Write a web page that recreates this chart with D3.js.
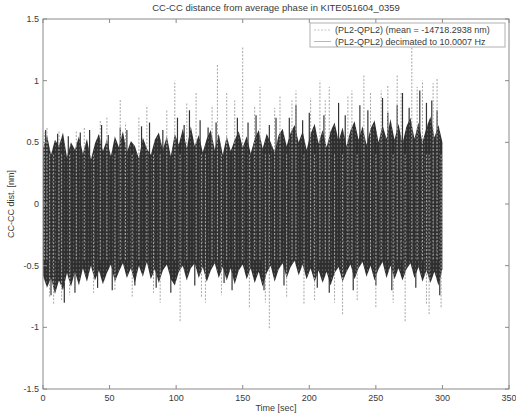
<!DOCTYPE html>
<html>
<head>
<meta charset="utf-8">
<script src="https://cdn.jsdelivr.net/npm/d3@7"></script>
<style>
  html, body { margin: 0; padding: 0; background: #fff; }
  svg { display: block; font-family: "Liberation Sans", Arial, sans-serif; }
</style>
</head>
<body>
<svg id="chart" width="516" height="419"></svg>
<script>
// ---- data -------------------------------------------------------------
const title = "CC-CC distance from average phase in KITE051604_0359";
const xLabel = "Time [sec]";
const yLabel = "CC-CC dist. [nm]";
const legendLabels = [
  "(PL2-QPL2) (mean = -14718.2938 nm)",
  "(PL2-QPL2) decimated to 10.0007 Hz"
];
const xTicks = [0, 50, 100, 150, 200, 250, 300, 350];
const yTicks = [-1.5, -1, -0.5, 0, 0.5, 1, 1.5];

// envelope of the decimated signal, sampled every 3 s from 0 to 300 s
const envStep = 3;
const envTop = [
  0.45, 0.56, 0.40, 0.52, 0.47, 0.58, 0.38, 0.50, 0.44, 0.55,
  0.41, 0.53, 0.36, 0.49, 0.57, 0.43, 0.52, 0.39, 0.55, 0.46,
  0.59, 0.42, 0.51, 0.47, 0.37, 0.54, 0.45, 0.40, 0.52, 0.58,
  0.44, 0.55, 0.39, 0.57, 0.48, 0.61, 0.45, 0.63, 0.47, 0.56,
  0.42, 0.53, 0.60, 0.44, 0.57, 0.40, 0.55, 0.43, 0.52, 0.59,
  0.46, 0.55, 0.41, 0.53, 0.60, 0.45, 0.57, 0.50, 0.42, 0.56,
  0.61, 0.47, 0.58, 0.64, 0.50, 0.59, 0.44, 0.57, 0.65, 0.49,
  0.60, 0.46, 0.59, 0.66, 0.51, 0.62, 0.47, 0.60, 0.67, 0.52,
  0.63, 0.48, 0.61, 0.68, 0.50, 0.64, 0.53, 0.69, 0.52, 0.65,
  0.49, 0.63, 0.70, 0.53, 0.66, 0.50, 0.62, 0.71, 0.54, 0.64, 0.50
];
const envBottom = [
  -0.58, -0.68, -0.60, -0.73, -0.62, -0.70, -0.56, -0.67, -0.55, -0.66,
  -0.52, -0.63, -0.50, -0.62, -0.54, -0.65, -0.56, -0.49, -0.63, -0.55,
  -0.48, -0.60, -0.52, -0.64, -0.50, -0.59, -0.47, -0.61, -0.53, -0.64,
  -0.54, -0.49, -0.61, -0.66, -0.55, -0.50, -0.62, -0.52, -0.48, -0.60,
  -0.51, -0.63, -0.54, -0.48, -0.60, -0.51, -0.62, -0.52, -0.65, -0.54,
  -0.49, -0.61, -0.52, -0.64, -0.55, -0.67, -0.56, -0.50, -0.63, -0.53,
  -0.48, -0.60, -0.51, -0.46, -0.58, -0.49, -0.61, -0.52, -0.63, -0.54,
  -0.64, -0.55, -0.66, -0.56, -0.51, -0.63, -0.55, -0.49, -0.61, -0.52,
  -0.47, -0.59, -0.50, -0.62, -0.53, -0.47, -0.60, -0.50, -0.61, -0.52,
  -0.62, -0.53, -0.48, -0.60, -0.51, -0.63, -0.54, -0.64, -0.55, -0.66, -0.53
];

// isolated excursions of the decimated signal [time s, value nm]
const darkSpikes = [
  [2, 0.60], [6, -0.74], [11, 0.57], [16, -0.80], [19, 0.55], [24, -0.72],
  [28, 0.58], [35, 0.60], [41, -0.68], [44, 0.64], [49, 0.56], [52, -0.70],
  [58, 0.62], [63, 0.60], [69, -0.66], [74, 0.63], [80, 0.66], [85, -0.68],
  [90, 0.60], [96, -0.72], [101, 0.70], [106, 0.64], [110, 0.76], [114, -0.66],
  [118, 0.68], [124, 0.62], [130, 0.66], [136, -0.64], [142, -0.70], [146, 0.70],
  [154, 0.66], [160, 0.72], [166, -0.70], [170, 0.64], [175, 0.70], [181, -0.66],
  [185, 0.70], [190, 0.80], [195, 0.68], [200, 0.74], [206, -0.68], [211, 0.72],
  [215, -0.72], [222, 0.82], [227, 0.72], [233, -0.70], [238, 0.80], [244, 0.76],
  [250, -0.66], [255, 0.86], [259, 0.74], [262, -0.70], [266, 0.80], [270, 0.90],
  [275, 0.78], [280, -0.68], [283, 0.92], [288, 0.82], [292, 0.84], [296, 0.76],
  [298, -0.74]
];

// peaks of the full-rate signal [time s, value nm]
const rawSpikes = [
  [1, 0.58], [3, 0.62], [5, -0.76], [8, -0.82], [12, 0.60], [14, -0.78],
  [20, -0.74], [25, 0.60], [31, 0.62], [38, -0.72], [43, 0.68], [48, 0.70],
  [54, -0.70], [58, 0.85], [62, 0.66], [67, -0.75], [72, 0.70], [78, 0.80],
  [83, -0.72], [88, -0.80], [93, 0.76], [99, 1.00], [103, -0.95], [108, 0.82],
  [115, 0.90], [119, -0.76], [122, -0.80], [127, 0.80], [131, 1.13], [134, -0.74],
  [138, 0.90], [144, 0.84], [150, 1.28], [155, -0.85], [159, 0.80], [163, 0.95],
  [167, -0.80], [170, -1.02], [174, 0.78], [178, 0.88], [183, -0.76], [187, 0.84],
  [190, 0.92], [196, -0.82], [201, 0.86], [204, -0.78], [208, 1.00], [212, 0.84],
  [215, 0.95], [219, -0.80], [225, -0.90], [229, 0.88], [232, 0.92], [236, -0.78],
  [241, 1.05], [246, 0.90], [250, -0.85], [254, 0.92], [259, 0.96], [263, -0.80],
  [266, 1.05], [269, 0.90], [272, -0.95], [277, 1.27], [281, 0.95], [285, 1.00],
  [288, -0.82], [290, -0.90], [293, 0.98], [296, 1.02], [299, -0.85]
];

// ---- layout -----------------------------------------------------------
const svg = d3.select("#chart");
const plot = { left: 43, right: 509, top: 19, bottom: 389 };
const axisColor = "#8a8a8a";
const textColor = "#3a3a3a";

const x = d3.scaleLinear().domain([0, 350]).range([plot.left, plot.right]);
const y = d3.scaleLinear().domain([-1.5, 1.5]).range([plot.bottom, plot.top]);

const defs = svg.append("defs");
const pat = defs.append("pattern")
  .attr("id", "dense").attr("patternUnits", "userSpaceOnUse")
  .attr("width", 3).attr("height", 4);
pat.append("rect").attr("width", 3).attr("height", 4).attr("fill", "#2f2f2f");
pat.append("circle").attr("cx", 1.5).attr("cy", 2).attr("r", 0.7).attr("fill", "#6e6e6e");
defs.append("clipPath").attr("id", "clip").append("rect")
  .attr("x", plot.left).attr("y", plot.top)
  .attr("width", plot.right - plot.left).attr("height", plot.bottom - plot.top);

const g = svg.append("g").attr("clip-path", "url(#clip)");

// excursions of the decimated signal, behind the band
g.selectAll("line.dark").data(darkSpikes).join("line")
  .attr("class", "dark")
  .attr("x1", d => x(d[0])).attr("x2", d => x(d[0]))
  .attr("y1", y(0)).attr("y2", d => y(d[1]))
  .attr("stroke", "#333").attr("stroke-width", 1.2);

// decimated signal band
const env = envTop.map((v, i) => ({ t: i * envStep, hi: v, lo: envBottom[i] }));
g.append("path").datum(env)
  .attr("d", d3.area().x(d => x(d.t)).y0(d => y(d.lo)).y1(d => y(d.hi)))
  .attr("fill", "url(#dense)");

// full-rate peaks as dotted strokes swinging across the band
g.selectAll("line.raw").data(rawSpikes).join("line")
  .attr("class", "raw")
  .attr("x1", d => x(d[0])).attr("x2", d => x(d[0]))
  .attr("y1", d => y(d[1] > 0 ? -0.45 : 0.4)).attr("y2", d => y(d[1]))
  .attr("stroke", "#a6a6a6").attr("stroke-width", 1)
  .attr("stroke-dasharray", "2,1.5");

// ---- axes box ---------------------------------------------------------
const tickLen = 4;
svg.append("rect")
  .attr("x", plot.left).attr("y", plot.top)
  .attr("width", plot.right - plot.left).attr("height", plot.bottom - plot.top)
  .attr("fill", "none").attr("stroke", axisColor).attr("stroke-width", 1);

const ax = svg.append("g");
xTicks.forEach(t => {
  ax.append("line").attr("x1", x(t)).attr("x2", x(t))
    .attr("y1", plot.bottom).attr("y2", plot.bottom - tickLen).attr("stroke", axisColor);
  ax.append("line").attr("x1", x(t)).attr("x2", x(t))
    .attr("y1", plot.top).attr("y2", plot.top + tickLen).attr("stroke", axisColor);
  ax.append("text").attr("x", x(t)).attr("y", plot.bottom + 12)
    .attr("text-anchor", "middle").attr("font-size", 9).attr("fill", textColor)
    .text(String(t));
});
yTicks.forEach(v => {
  ax.append("line").attr("x1", plot.left).attr("x2", plot.left + tickLen)
    .attr("y1", y(v)).attr("y2", y(v)).attr("stroke", axisColor);
  ax.append("line").attr("x1", plot.right).attr("x2", plot.right - tickLen)
    .attr("y1", y(v)).attr("y2", y(v)).attr("stroke", axisColor);
  ax.append("text").attr("x", plot.left - 4).attr("y", y(v) + 3)
    .attr("text-anchor", "end").attr("font-size", 9).attr("fill", textColor)
    .text(String(v));
});

// ---- labels -------------------------------------------------------------
svg.append("text").attr("x", (plot.left + plot.right) / 2).attr("y", 11)
  .attr("text-anchor", "middle").attr("font-size", 9.5).attr("fill", textColor)
  .text(title);
svg.append("text").attr("x", (plot.left + plot.right) / 2).attr("y", 411)
  .attr("text-anchor", "middle").attr("font-size", 9).attr("fill", textColor)
  .text(xLabel);
svg.append("text")
  .attr("transform", `translate(14,${y(0)}) rotate(-90)`)
  .attr("text-anchor", "middle").attr("font-size", 9).attr("fill", textColor)
  .text(yLabel);

// ---- legend -------------------------------------------------------------
const lg = svg.append("g");
lg.append("rect").attr("x", 310).attr("y", 23).attr("width", 195).attr("height", 24)
  .attr("fill", "#fff").attr("stroke", "#b0b0b0");
const legendStyles = [
  { stroke: "#c4c4c4", dash: "2,1.5" },
  { stroke: "#b8b8b8", dash: null }
];
legendLabels.forEach((lab, i) => {
  const yy = 30 + i * 11.5;
  lg.append("line").attr("x1", 314).attr("x2", 331).attr("y1", yy).attr("y2", yy)
    .attr("stroke", legendStyles[i].stroke).attr("stroke-dasharray", legendStyles[i].dash);
  lg.append("text").attr("x", 335).attr("y", yy + 3.2)
    .attr("font-size", 9).attr("fill", textColor).text(lab);
});
</script>
</body>
</html>
